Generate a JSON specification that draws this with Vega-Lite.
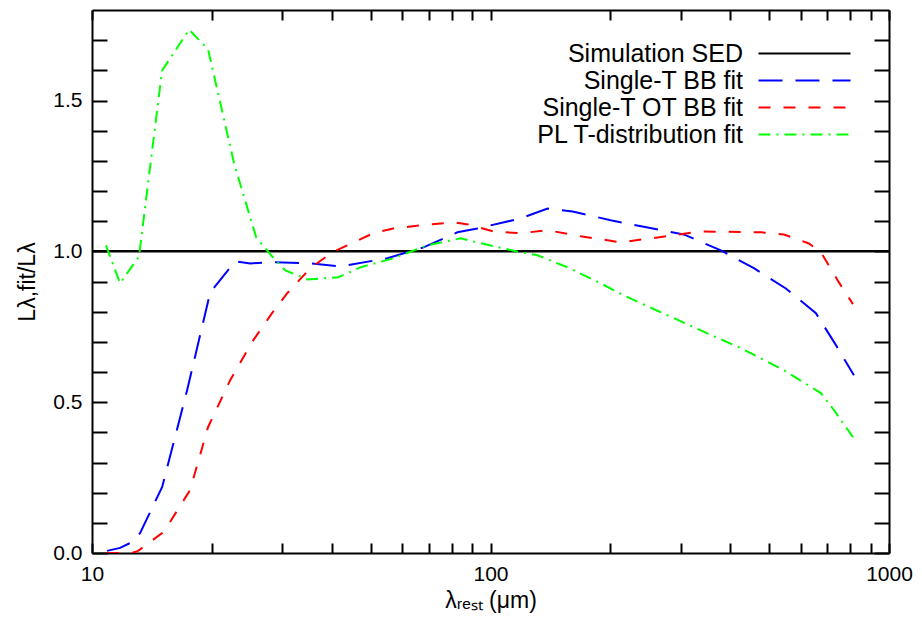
{
  "$schema": "https://vega.github.io/schema/vega-lite/v6.json",
  "width": 797,
  "height": 543,
  "autosize": "none",
  "padding": {"left": 92, "top": 10, "right": 33, "bottom": 70},
  "background": "white",
  "config": {
    "view": {"stroke": null, "fill": null},
    "font": "Liberation Sans",
    "axis": {
      "grid": false,
      "ticks": true,
      "zindex": 2,
      "domainColor": "black",
      "domainWidth": 2,
      "tickColor": "black",
      "tickWidth": 2,
      "labelFont": "Liberation Sans",
      "labelFontSize": 21,
      "labelColor": "black",
      "titleFont": "Liberation Sans",
      "titleFontSize": 23,
      "titleFontWeight": "normal",
      "titleColor": "black"
    },
    "legend": {
      "orient": "none",
      "legendX": 700,
      "legendY": 31,
      "symbolType": "M-4.6,0H4.6",
      "symbolSize": 400,
      "symbolStrokeWidth": 2,
      "labelAlign": "right",
      "labelOffset": -74,
      "labelFont": "Liberation Sans",
      "labelFontSize": 25,
      "labelColor": "black",
      "labelLimit": 0,
      "rowPadding": 1,
      "padding": 0
    }
  },
  "data": {
    "values": [
      {"series": "Simulation SED", "lam": 10, "ratio": 1.0},
      {"series": "Simulation SED", "lam": 1000, "ratio": 1.0},

      {"series": "Single-T BB fit", "lam": 10.91, "ratio": 0.007},
      {"series": "Single-T BB fit", "lam": 11.76, "ratio": 0.017},
      {"series": "Single-T BB fit", "lam": 12.46, "ratio": 0.033},
      {"series": "Single-T BB fit", "lam": 13.2, "ratio": 0.066},
      {"series": "Single-T BB fit", "lam": 15.0, "ratio": 0.219},
      {"series": "Single-T BB fit", "lam": 17.33, "ratio": 0.54},
      {"series": "Single-T BB fit", "lam": 19.8, "ratio": 0.864},
      {"series": "Single-T BB fit", "lam": 22.87, "ratio": 0.967},
      {"series": "Single-T BB fit", "lam": 24.95, "ratio": 0.96},
      {"series": "Single-T BB fit", "lam": 28.5, "ratio": 0.964},
      {"series": "Single-T BB fit", "lam": 35.3, "ratio": 0.96},
      {"series": "Single-T BB fit", "lam": 42.0, "ratio": 0.95},
      {"series": "Single-T BB fit", "lam": 55.1, "ratio": 0.977},
      {"series": "Single-T BB fit", "lam": 67.9, "ratio": 1.013},
      {"series": "Single-T BB fit", "lam": 82.6, "ratio": 1.063},
      {"series": "Single-T BB fit", "lam": 92.7, "ratio": 1.076},
      {"series": "Single-T BB fit", "lam": 119.0, "ratio": 1.109},
      {"series": "Single-T BB fit", "lam": 139.1, "ratio": 1.142},
      {"series": "Single-T BB fit", "lam": 160.7, "ratio": 1.132},
      {"series": "Single-T BB fit", "lam": 200.2, "ratio": 1.103},
      {"series": "Single-T BB fit", "lam": 248, "ratio": 1.079},
      {"series": "Single-T BB fit", "lam": 305.4, "ratio": 1.056},
      {"series": "Single-T BB fit", "lam": 378.5, "ratio": 1.003},
      {"series": "Single-T BB fit", "lam": 458, "ratio": 0.944},
      {"series": "Single-T BB fit", "lam": 551, "ratio": 0.877},
      {"series": "Single-T BB fit", "lam": 655.6, "ratio": 0.795},
      {"series": "Single-T BB fit", "lam": 736, "ratio": 0.689},
      {"series": "Single-T BB fit", "lam": 816.6, "ratio": 0.589},

      {"series": "Single-T OT BB fit", "lam": 10.9, "ratio": 0.0},
      {"series": "Single-T OT BB fit", "lam": 12.6, "ratio": 0.0},
      {"series": "Single-T OT BB fit", "lam": 13.05, "ratio": 0.007},
      {"series": "Single-T OT BB fit", "lam": 15.0, "ratio": 0.066},
      {"series": "Single-T OT BB fit", "lam": 15.7, "ratio": 0.103},
      {"series": "Single-T OT BB fit", "lam": 17.63, "ratio": 0.209},
      {"series": "Single-T OT BB fit", "lam": 19.55, "ratio": 0.417},
      {"series": "Single-T OT BB fit", "lam": 22.22, "ratio": 0.573},
      {"series": "Single-T OT BB fit", "lam": 25.38, "ratio": 0.705},
      {"series": "Single-T OT BB fit", "lam": 28.3, "ratio": 0.795},
      {"series": "Single-T OT BB fit", "lam": 30.9, "ratio": 0.861},
      {"series": "Single-T OT BB fit", "lam": 35.3, "ratio": 0.944},
      {"series": "Single-T OT BB fit", "lam": 40.1, "ratio": 0.997},
      {"series": "Single-T OT BB fit", "lam": 43.7, "ratio": 1.02},
      {"series": "Single-T OT BB fit", "lam": 50.8, "ratio": 1.06},
      {"series": "Single-T OT BB fit", "lam": 57.0, "ratio": 1.076},
      {"series": "Single-T OT BB fit", "lam": 66.7, "ratio": 1.086},
      {"series": "Single-T OT BB fit", "lam": 80.7, "ratio": 1.096},
      {"series": "Single-T OT BB fit", "lam": 88.0, "ratio": 1.089},
      {"series": "Single-T OT BB fit", "lam": 101.7, "ratio": 1.066},
      {"series": "Single-T OT BB fit", "lam": 119.0, "ratio": 1.06},
      {"series": "Single-T OT BB fit", "lam": 139, "ratio": 1.07},
      {"series": "Single-T OT BB fit", "lam": 168.3, "ratio": 1.05},
      {"series": "Single-T OT BB fit", "lam": 212.2, "ratio": 1.03},
      {"series": "Single-T OT BB fit", "lam": 262.8, "ratio": 1.046},
      {"series": "Single-T OT BB fit", "lam": 337, "ratio": 1.066},
      {"series": "Single-T OT BB fit", "lam": 476.9, "ratio": 1.063},
      {"series": "Single-T OT BB fit", "lam": 544.8, "ratio": 1.056},
      {"series": "Single-T OT BB fit", "lam": 629.5, "ratio": 1.026},
      {"series": "Single-T OT BB fit", "lam": 674.8, "ratio": 0.997},
      {"series": "Single-T OT BB fit", "lam": 748.7, "ratio": 0.897},
      {"series": "Single-T OT BB fit", "lam": 812, "ratio": 0.825},

      {"series": "PL T-distribution fit", "lam": 10.84, "ratio": 1.02},
      {"series": "PL T-distribution fit", "lam": 11.76, "ratio": 0.894},
      {"series": "PL T-distribution fit", "lam": 13.12, "ratio": 0.983},
      {"series": "PL T-distribution fit", "lam": 14.99, "ratio": 1.599},
      {"series": "PL T-distribution fit", "lam": 17.53, "ratio": 1.735},
      {"series": "PL T-distribution fit", "lam": 19.56, "ratio": 1.669},
      {"series": "PL T-distribution fit", "lam": 22.74, "ratio": 1.29},
      {"series": "PL T-distribution fit", "lam": 25.83, "ratio": 1.046},
      {"series": "PL T-distribution fit", "lam": 28.33, "ratio": 0.983},
      {"series": "PL T-distribution fit", "lam": 30.54, "ratio": 0.937},
      {"series": "PL T-distribution fit", "lam": 34.69, "ratio": 0.907},
      {"series": "PL T-distribution fit", "lam": 41.51, "ratio": 0.914},
      {"series": "PL T-distribution fit", "lam": 47.14, "ratio": 0.947},
      {"series": "PL T-distribution fit", "lam": 57.05, "ratio": 0.977},
      {"series": "PL T-distribution fit", "lam": 69.46, "ratio": 1.02},
      {"series": "PL T-distribution fit", "lam": 84.07, "ratio": 1.043},
      {"series": "PL T-distribution fit", "lam": 101.7, "ratio": 1.017},
      {"series": "PL T-distribution fit", "lam": 119.0, "ratio": 0.997},
      {"series": "PL T-distribution fit", "lam": 131.2, "ratio": 0.987},
      {"series": "PL T-distribution fit", "lam": 156.1, "ratio": 0.947},
      {"series": "PL T-distribution fit", "lam": 171.3, "ratio": 0.921},
      {"series": "PL T-distribution fit", "lam": 189.0, "ratio": 0.894},
      {"series": "PL T-distribution fit", "lam": 215.9, "ratio": 0.854},
      {"series": "PL T-distribution fit", "lam": 267.4, "ratio": 0.798},
      {"series": "PL T-distribution fit", "lam": 337.1, "ratio": 0.738},
      {"series": "PL T-distribution fit", "lam": 424.9, "ratio": 0.679},
      {"series": "PL T-distribution fit", "lam": 544.8, "ratio": 0.606},
      {"series": "PL T-distribution fit", "lam": 674.8, "ratio": 0.53},
      {"series": "PL T-distribution fit", "lam": 727.5, "ratio": 0.474},
      {"series": "PL T-distribution fit", "lam": 812.0, "ratio": 0.384}
    ]
  },
  "encoding": {
    "color": {
      "field": "series",
      "type": "nominal",
      "sort": ["Simulation SED", "Single-T BB fit", "Single-T OT BB fit", "PL T-distribution fit"],
      "scale": {
        "domain": ["Simulation SED", "Single-T BB fit", "Single-T OT BB fit", "PL T-distribution fit"],
        "range": ["#000000", "#0000ff", "#ff0000", "#00ff00"]
      },
      "legend": {"title": null}
    },
    "strokeDash": {
      "field": "series",
      "type": "nominal",
      "sort": ["Simulation SED", "Single-T BB fit", "Single-T OT BB fit", "PL T-distribution fit"],
      "scale": {
        "domain": ["Simulation SED", "Single-T BB fit", "Single-T OT BB fit", "PL T-distribution fit"],
        "range": [[1, 0], [24, 13], [12, 13], [12, 6, 2, 6]]
      },
      "legend": {"title": null}
    }
  },
  "layer": [
    {
      "transform": [{"filter": "datum.series == 'Simulation SED'"}],
      "mark": {"type": "line", "strokeWidth": 2.5, "clip": true},
      "encoding": {
        "x": {
          "field": "lam",
          "type": "quantitative",
          "scale": {"type": "log", "domain": [10, 1000], "nice": false},
          "axis": {
            "orient": "bottom",
            "title": "λᵣₑₛₜ (μm)",
            "values": [10, 20, 30, 40, 50, 60, 70, 80, 90, 100, 200, 300, 400, 500, 600, 700, 800, 900, 1000],
            "labelExpr": "(datum.value == 10 || datum.value == 100 || datum.value == 1000) ? format(datum.value, 'd') : ''",
            "tickSize": -10,
            "encoding": {"ticks": {"update": {"y2": {"signal": "(datum.value == 10 || datum.value == 100 || datum.value == 1000) ? -10 : -5"}}}},
            "labelPadding": 20,
            "labelFlush": false,
            "labelOverlap": false,
            "titlePadding": 5
          }
        },
        "y": {
          "field": "ratio",
          "type": "quantitative",
          "scale": {"domain": [0, 1.8], "nice": false, "zero": false},
          "axis": {
            "orient": "left",
            "title": "Lλ,fit/Lλ",
            "values": [0, 0.1, 0.2, 0.3, 0.4, 0.5, 0.6, 0.7, 0.8, 0.9, 1.0, 1.1, 1.2, 1.3, 1.4, 1.5, 1.6, 1.7],
            "labelExpr": "(abs(datum.value - 0) < 1e-6 || abs(datum.value - 0.5) < 1e-6 || abs(datum.value - 1) < 1e-6 || abs(datum.value - 1.5) < 1e-6) ? format(datum.value, '.1f') : ''",
            "tickSize": -15,
            "encoding": {"ticks": {"update": {"x2": {"signal": "(abs(datum.value - 0) < 1e-6 || abs(datum.value - 0.5) < 1e-6 || abs(datum.value - 1) < 1e-6 || abs(datum.value - 1.5) < 1e-6) ? 15 : 8"}}}},
            "labelPadding": 25,
            "labelFlush": false,
            "labelOverlap": false,
            "titlePadding": 13
          }
        }
      }
    },
    {
      "transform": [{"filter": "datum.series != 'Simulation SED'"}],
      "mark": {"type": "line", "strokeWidth": 2, "clip": true},
      "encoding": {
        "x": {
          "field": "lam",
          "type": "quantitative",
          "scale": {"type": "log", "domain": [10, 1000], "nice": false},
          "axis": {
            "orient": "top",
            "title": null,
            "values": [10, 20, 30, 40, 50, 60, 70, 80, 90, 100, 200, 300, 400, 500, 600, 700, 800, 900, 1000],
            "labels": false,
            "tickSize": -10,
            "encoding": {"ticks": {"update": {"y2": {"signal": "(datum.value == 10 || datum.value == 100 || datum.value == 1000) ? 10 : 5"}}}}
          }
        },
        "y": {
          "field": "ratio",
          "type": "quantitative",
          "scale": {"domain": [0, 1.8], "nice": false, "zero": false},
          "axis": {
            "orient": "right",
            "title": null,
            "values": [0, 0.1, 0.2, 0.3, 0.4, 0.5, 0.6, 0.7, 0.8, 0.9, 1.0, 1.1, 1.2, 1.3, 1.4, 1.5, 1.6, 1.7],
            "labels": false,
            "tickSize": -15,
            "encoding": {"ticks": {"update": {"x2": {"signal": "(abs(datum.value - 0) < 1e-6 || abs(datum.value - 0.5) < 1e-6 || abs(datum.value - 1) < 1e-6 || abs(datum.value - 1.5) < 1e-6) ? -15 : -8"}}}}
          }
        }
      }
    }
  ],
  "resolve": {"axis": {"x": "independent", "y": "independent"}}
}
